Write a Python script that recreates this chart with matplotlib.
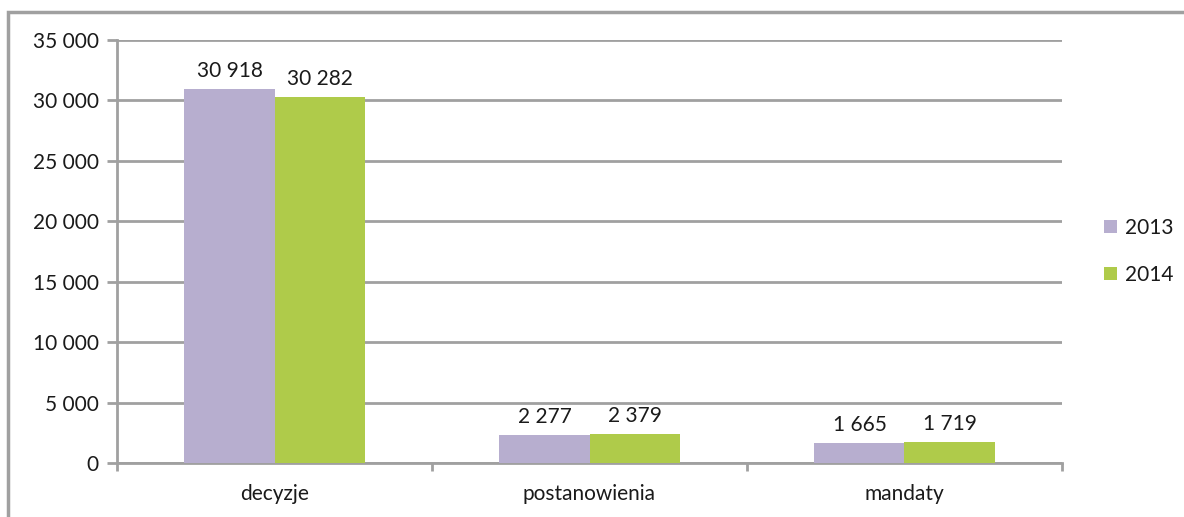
import matplotlib
matplotlib.use("Agg")
import matplotlib.pyplot as plt
from matplotlib.patches import Rectangle
import numpy as np

categories = ["decyzje", "postanowienia", "mandaty"]
years = ["2013", "2014"]
values_2013 = [30918, 2277, 1665]
values_2014 = [30282, 2379, 1719]
yticks = [0, 5000, 10000, 15000, 20000, 25000, 30000, 35000]

def fmt(v):
    return f"{v:,}".replace(",", " ")

plt.rcParams['font.family'] = ['Lato', 'DejaVu Sans']
W, H = 1184, 517
fig = plt.figure(figsize=(W/100, H/100), dpi=100)
ax = fig.add_axes([117/W, 1-463/H, 945/W, 423/H])

grid_c = "#a0a0a0"
c13 = "#b7aecf"
c14 = "#afcb4a"
txt_c = "#1a1a1a"
fs = 15

x = np.arange(len(categories))
bw = 0.286
b1 = ax.bar(x - bw/2, values_2013, bw, color=c13, label=years[0], zorder=3)
b2 = ax.bar(x + bw/2, values_2014, bw, color=c14, label=years[1], zorder=3)
for bars, vals in ((b1, values_2013), (b2, values_2014)):
    for r, v in zip(bars, vals):
        ax.annotate(fmt(v), (r.get_x() + r.get_width()/2, v), xytext=(0, 6),
                    textcoords="offset points", ha="center", va="bottom",
                    fontsize=fs, color=txt_c)

ax.set_xlim(-0.5, len(categories) - 0.5)
ax.set_ylim(0, 35000)
ax.set_yticks(yticks)
ax.set_yticklabels([fmt(v) for v in yticks], fontsize=fs, color=txt_c)
ax.yaxis.grid(True, color=grid_c, linewidth=2, zorder=0)
ax.set_xticks(x)
ax.set_xticklabels(categories, fontsize=fs, color=txt_c)
ax.tick_params(axis="x", length=0, pad=15)
ax.set_xticks(np.arange(len(categories) + 1) - 0.5, minor=True)
ax.tick_params(axis="x", which="minor", length=6, width=2, color=grid_c, direction="out")
ax.tick_params(axis="y", length=7, width=2, color=grid_c, pad=6)
for s in ["top", "right"]:
    ax.spines[s].set_visible(False)
ax.spines["left"].set_color(grid_c)
ax.spines["left"].set_linewidth(2)
ax.spines["bottom"].set_color(grid_c)
ax.spines["bottom"].set_linewidth(2)

leg = ax.legend(loc="center left", bbox_to_anchor=(1.025, 0.5), frameon=False,
                fontsize=fs, handlelength=0.6, handleheight=0.6, handletextpad=0.4,
                labelspacing=1.3)
for t in leg.get_texts():
    t.set_color(txt_c)

fig.patches.append(Rectangle((8/W, -0.1), 1.2, 1 - 12/H + 0.1, transform=fig.transFigure,
                             fill=False, edgecolor=grid_c, linewidth=2.5))

fig.savefig("out.png", dpi=100)
